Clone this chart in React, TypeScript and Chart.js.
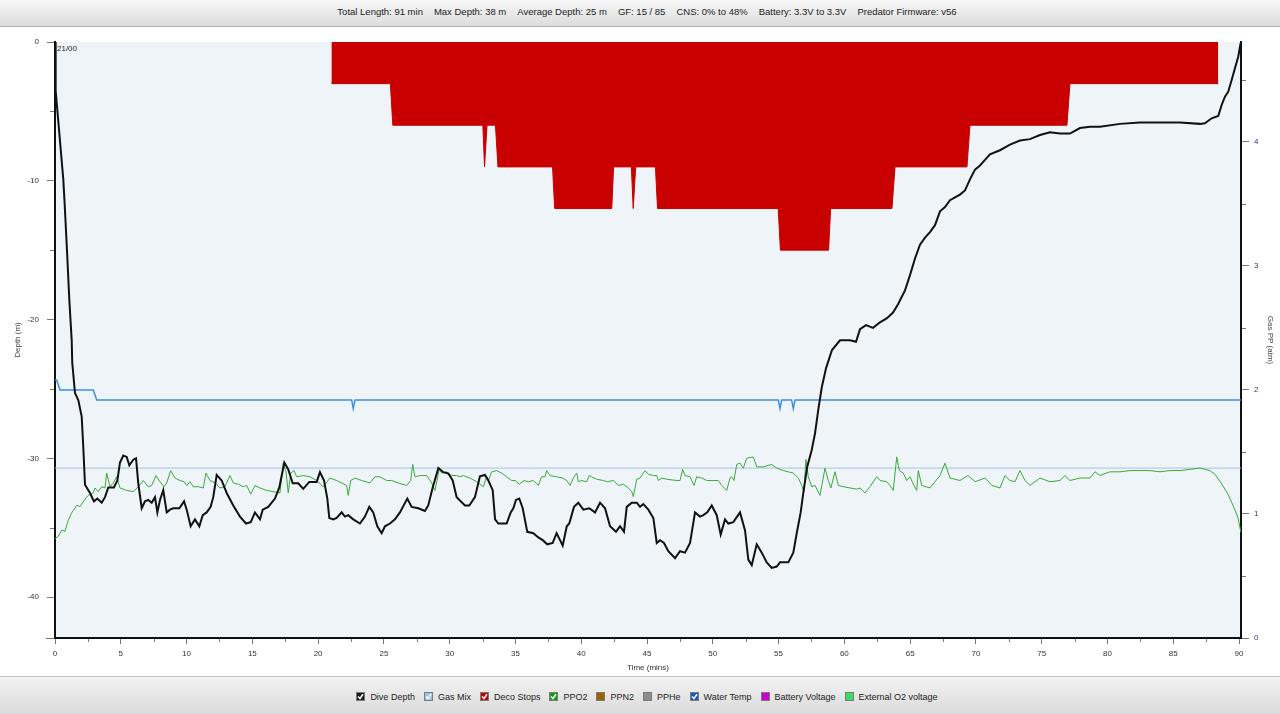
import React, { useEffect, useRef } from 'react';
import { Chart, registerables } from 'chart.js';

Chart.register(...registerables);

const FONT = '"Liberation Sans", Arial, Helvetica, sans-serif';

// Header statistics
const statLabels = ['Total Length', 'Max Depth', 'Average Depth', 'GF', 'CNS', 'Battery', 'Predator Firmware'];
const statValues = ['91 min', '38 m', '25 m', '15 / 85', '0% to 48%', '3.3V to 3.3V', 'v56'];

// Legend
const legendNames = ['Dive Depth', 'Gas Mix', 'Deco Stops', 'PPO2', 'PPN2', 'PPHe', 'Water Temp', 'Battery Voltage', 'External O2 voltage'];
const legendColors = ['#1a1a1a', '#98c4ec', '#c80000', '#139a13', '#9a6200', '#8c8c8c', '#1257c8', '#cc00cc', '#3ddc6a'];
const legendChecked = [true, true, true, true, false, false, true, false, false];

// Axes
const timeMin = 0;
const timeMax = 90.15;
const depthMin = -42.95;
const depthMax = 0;
const ppMin = 0;
const ppMax = 4.806;
const markerText = '21/00';

// Dive depth [minutes, metres]
const depthProfile: [number, number][] = [
  [0, 0], [0.05, -3.5], [0.63, -9.9], [0.72, -11.4], [0.91, -15.0], [1.09, -18.6], [1.27, -21.5], [1.31, -23.1],
  [1.52, -25.3], [1.77, -25.8], [2.03, -27.0], [2.15, -29.2], [2.28, -31.9], [2.66, -32.5], [2.96, -33.1], [3.22, -32.9],
  [3.55, -33.2], [3.80, -32.8], [4.05, -32.1], [4.31, -32.1], [4.48, -32.1], [4.74, -31.6], [4.94, -30.3], [5.19, -29.8],
  [5.45, -29.9], [5.65, -30.5], [5.95, -30.1], [6.16, -30.0], [6.33, -31.8], [6.59, -33.6], [6.84, -33.1], [7.09, -33.0],
  [7.35, -33.2], [7.60, -32.8], [7.78, -33.9], [7.98, -33.0], [8.23, -32.3], [8.49, -33.9], [8.74, -33.7], [8.99, -33.6],
  [9.45, -33.6], [9.81, -33.1], [10.01, -33.7], [10.31, -34.9], [10.64, -34.4], [10.97, -34.9], [11.23, -34.1], [11.53, -33.9],
  [11.83, -33.5], [12.03, -32.8], [12.29, -31.2], [12.67, -31.6], [13.05, -32.5], [13.55, -33.4], [14.06, -34.2], [14.52, -34.7],
  [14.88, -34.6], [15.20, -33.9], [15.58, -34.4], [15.79, -33.7], [16.21, -33.5], [16.72, -32.9], [17.05, -32.1], [17.43, -30.3],
  [17.73, -30.8], [18.07, -31.8], [18.49, -31.8], [18.87, -32.2], [19.33, -31.7], [19.89, -31.7], [20.14, -31.0], [20.45, -31.6],
  [20.70, -32.9], [20.85, -34.3], [21.15, -34.4], [21.41, -34.3], [21.79, -33.9], [22.04, -34.2], [22.29, -34.1], [22.67, -34.4],
  [23.18, -34.7], [23.56, -34.2], [23.89, -33.5], [24.19, -33.9], [24.50, -34.9], [24.83, -35.4], [25.08, -34.9], [25.46, -34.7],
  [25.84, -34.4], [26.22, -33.9], [26.78, -32.9], [27.11, -33.5], [27.62, -33.6], [28.12, -33.8], [28.37, -33.4], [28.71, -32.1],
  [29.14, -30.7], [29.52, -31.0], [29.90, -31.1], [30.23, -31.6], [30.53, -32.8], [31.16, -33.4], [31.49, -33.4], [31.92, -32.8],
  [32.30, -31.3], [32.68, -31.2], [32.94, -31.6], [33.27, -32.3], [33.45, -34.4], [33.70, -34.7], [34.13, -34.7], [34.33, -34.7],
  [34.64, -33.9], [34.84, -33.6], [35.04, -33.0], [35.29, -32.9], [35.55, -33.6], [35.90, -35.3], [36.36, -35.4], [36.74, -35.7],
  [37.07, -35.9], [37.42, -36.2], [37.83, -36.1], [38.13, -35.4], [38.39, -35.9], [38.59, -36.3], [38.90, -34.9], [39.09, -34.7],
  [39.45, -33.5], [39.78, -33.2], [40.16, -33.7], [40.61, -33.6], [41.05, -33.9], [41.43, -33.2], [41.81, -33.6], [42.19, -34.9],
  [42.64, -35.3], [42.95, -34.9], [43.25, -35.3], [43.46, -33.5], [43.84, -33.2], [44.22, -33.2], [44.47, -33.5], [44.72, -33.3],
  [45.10, -33.7], [45.48, -34.3], [45.74, -36.1], [45.99, -35.9], [46.29, -36.1], [46.62, -36.7], [47.13, -37.2], [47.51, -36.7],
  [47.89, -36.8], [48.27, -36.1], [48.65, -33.9], [49.03, -34.2], [49.28, -34.1], [49.58, -33.9], [49.92, -33.4], [50.30, -34.1],
  [50.60, -35.5], [50.93, -34.4], [51.18, -34.7], [51.56, -34.6], [52.07, -33.9], [52.45, -35.2], [52.70, -37.3], [52.96, -37.7],
  [53.34, -36.2], [53.72, -36.8], [54.10, -37.5], [54.48, -37.9], [54.86, -37.8], [55.11, -37.5], [55.49, -37.5], [55.74, -37.5],
  [56.12, -36.8], [56.38, -35.4], [56.68, -33.9], [56.88, -32.5], [57.18, -30.6], [57.52, -29.4], [57.77, -28.2], [58.02, -26.5],
  [58.28, -24.9], [58.61, -23.5], [59.06, -22.2], [59.67, -21.5], [60.43, -21.5], [60.89, -21.6], [61.19, -20.7], [61.65, -20.4],
  [62.18, -20.6], [62.71, -20.2], [63.24, -19.9], [63.70, -19.5], [64.08, -18.9], [64.61, -17.9], [64.99, -16.8], [65.37, -15.6],
  [65.75, -14.6], [66.13, -14.1], [66.51, -13.7], [66.89, -13.2], [67.27, -12.2], [67.65, -11.9], [68.03, -11.4], [68.41, -11.2],
  [68.79, -11.0], [69.17, -10.7], [69.55, -9.9], [69.93, -9.2], [70.31, -8.9], [70.69, -8.5], [71.07, -8.1], [71.83, -7.8],
  [72.59, -7.4], [73.35, -7.1], [74.11, -7.0], [74.87, -6.7], [75.63, -6.5], [76.39, -6.6], [77.15, -6.6], [77.91, -6.2],
  [78.67, -6.1], [79.43, -6.1], [80.95, -5.9], [82.47, -5.8], [83.99, -5.8], [85.51, -5.8], [87.03, -5.9], [87.41, -5.86],
  [87.92, -5.5], [88.42, -5.33], [88.68, -4.54], [88.93, -3.94], [89.18, -3.58], [89.44, -2.74], [89.69, -1.89], [89.94, -1.06],
  [90.12, -0.09],
];

// Deco stop ceiling [minutes, metres]
const decoStops: [number, number][] = [
  [21.01, -3], [25.49, -3], [25.68, -6], [32.52, -6], [32.65, -9], [32.84, -6], [33.48, -6], [33.67, -9],
  [37.82, -9], [37.98, -12], [42.32, -12], [42.46, -9], [43.81, -9], [43.95, -12], [44.14, -9], [45.64, -9],
  [45.80, -12], [54.97, -12], [55.14, -15], [58.80, -15], [58.96, -12], [63.62, -12], [63.85, -9], [69.32, -9],
  [69.55, -6], [76.92, -6], [77.15, -3], [88.42, -3],
];

// PPO2 [minutes, atm]
const ppo2: [number, number][] = [
  [0.00, 0.80], [0.25, 0.82], [0.51, 0.87], [0.76, 0.86], [1.01, 0.95], [1.27, 1.01], [1.65, 1.07], [1.90, 1.06],
  [2.28, 1.12], [2.53, 1.15], [2.91, 1.17], [3.04, 1.21], [3.29, 1.18], [3.55, 1.22], [3.80, 1.21], [3.93, 1.33],
  [4.18, 1.22], [4.43, 1.25], [4.69, 1.30], [4.94, 1.21], [5.45, 1.19], [5.95, 1.18], [6.33, 1.22], [6.71, 1.27],
  [7.09, 1.22], [7.35, 1.23], [7.68, 1.31], [7.98, 1.26], [8.29, 1.22], [8.49, 1.25], [8.79, 1.35], [9.12, 1.29],
  [9.50, 1.27], [9.81, 1.26], [10.01, 1.23], [10.26, 1.26], [10.51, 1.22], [10.89, 1.22], [11.27, 1.21], [11.48, 1.33],
  [11.78, 1.27], [12.16, 1.25], [12.54, 1.21], [12.92, 1.22], [13.30, 1.31], [13.55, 1.25], [13.93, 1.24], [14.31, 1.22],
  [14.57, 1.23], [14.88, 1.16], [15.20, 1.23], [15.58, 1.21], [16.09, 1.19], [16.59, 1.18], [17.10, 1.17], [17.35, 1.41],
  [17.56, 1.34], [17.73, 1.17], [17.92, 1.33], [18.17, 1.35], [18.37, 1.30], [18.87, 1.31], [19.38, 1.30], [19.89, 1.27],
  [20.39, 1.22], [20.90, 1.29], [21.41, 1.27], [21.79, 1.25], [22.17, 1.23], [22.29, 1.15], [22.48, 1.27], [22.80, 1.29],
  [23.31, 1.27], [23.94, 1.25], [24.32, 1.30], [24.70, 1.30], [25.21, 1.27], [25.59, 1.27], [26.09, 1.25], [26.73, 1.23],
  [27.04, 1.27], [27.19, 1.40], [27.36, 1.30], [27.74, 1.31], [28.25, 1.31], [28.63, 1.25], [28.88, 1.19], [29.21, 1.36],
  [29.39, 1.33], [29.77, 1.34], [30.15, 1.31], [30.53, 1.31], [30.78, 1.30], [31.04, 1.31], [31.54, 1.29], [32.05, 1.26],
  [32.56, 1.22], [32.81, 1.30], [32.94, 1.27], [33.19, 1.34], [33.57, 1.35], [33.95, 1.33], [34.33, 1.30], [34.71, 1.27],
  [34.97, 1.27], [35.29, 1.24], [35.65, 1.27], [35.98, 1.26], [36.36, 1.27], [36.74, 1.23], [36.99, 1.30], [37.25, 1.30],
  [37.37, 1.35], [37.63, 1.31], [38.13, 1.30], [38.59, 1.29], [38.90, 1.27], [39.15, 1.23], [39.40, 1.29], [39.66, 1.33],
  [39.78, 1.26], [40.04, 1.27], [40.41, 1.26], [40.61, 1.31], [40.79, 1.30], [41.18, 1.28], [41.68, 1.27], [41.98, 1.26],
  [42.44, 1.27], [42.82, 1.23], [43.20, 1.24], [43.58, 1.21], [43.84, 1.18], [43.96, 1.14], [44.22, 1.28], [44.47, 1.29],
  [44.85, 1.35], [45.10, 1.32], [45.48, 1.31], [45.74, 1.31], [45.86, 1.27], [46.12, 1.29], [46.50, 1.28], [47.26, 1.27],
  [47.51, 1.27], [47.71, 1.36], [47.89, 1.31], [48.27, 1.30], [48.57, 1.23], [48.78, 1.30], [49.16, 1.29], [49.54, 1.27],
  [50.04, 1.27], [50.42, 1.27], [50.68, 1.23], [51.06, 1.19], [51.31, 1.29], [51.44, 1.30], [51.61, 1.27], [51.82, 1.40],
  [52.07, 1.41], [52.32, 1.37], [52.58, 1.45], [53.08, 1.46], [53.34, 1.38], [53.84, 1.38], [54.48, 1.40], [54.86, 1.37],
  [55.36, 1.35], [55.74, 1.34], [56.12, 1.33], [56.50, 1.29], [56.76, 1.23], [56.93, 1.18], [57.08, 1.44], [57.26, 1.30],
  [57.52, 1.22], [57.77, 1.23], [58.15, 1.15], [58.53, 1.37], [58.78, 1.27], [58.98, 1.21], [59.29, 1.34], [59.54, 1.23],
  [59.92, 1.22], [60.43, 1.21], [60.94, 1.20], [61.19, 1.21], [61.57, 1.17], [61.95, 1.22], [62.46, 1.30], [62.71, 1.27],
  [63.22, 1.26], [63.47, 1.23], [63.72, 1.19], [63.98, 1.46], [64.18, 1.35], [64.48, 1.33], [64.74, 1.27], [64.99, 1.30],
  [65.24, 1.24], [65.50, 1.19], [65.62, 1.35], [65.88, 1.23], [66.51, 1.21], [67.27, 1.31], [67.65, 1.41], [68.03, 1.29],
  [68.79, 1.27], [69.40, 1.31], [69.93, 1.26], [70.69, 1.29], [71.22, 1.23], [71.83, 1.21], [72.21, 1.31], [72.59, 1.27],
  [72.97, 1.26], [73.35, 1.35], [73.73, 1.27], [74.11, 1.23], [74.87, 1.29], [75.63, 1.26], [76.39, 1.27], [76.77, 1.31],
  [77.15, 1.27], [77.91, 1.29], [78.67, 1.29], [79.05, 1.34], [79.43, 1.31], [80.19, 1.34], [80.95, 1.34], [81.71, 1.35],
  [82.47, 1.35], [83.23, 1.35], [83.99, 1.34], [84.75, 1.35], [85.51, 1.35], [86.27, 1.36], [87.03, 1.37], [87.79, 1.35],
  [88.17, 1.32], [88.70, 1.24], [89.16, 1.16], [89.54, 1.07], [89.92, 0.97], [90.15, 0.85],
];

// Water temperature trace, plotted on the gas PP scale [minutes, scaled value]
const waterTemp: [number, number][] = [
  [0, 2.08], [0.13, 2.08], [0.38, 2.0], [2.91, 2.0], [3.17, 1.92], [22.55, 1.92], [22.67, 1.85], [22.8, 1.92],
  [54.98, 1.92], [55.11, 1.85], [55.24, 1.92], [55.99, 1.92], [56.12, 1.85], [56.25, 1.92], [90.15, 1.92],
];

// Gas mix reference line [minutes, atm]
const gasMix: [number, number][] = [[0, 1.37], [90.15, 1.37]];

const toXY = (arr: [number, number][]) => arr.map(([x, y]) => ({ x, y }));

const plotBg = {
  id: 'plotBg',
  beforeDraw(chart: any) {
    const { ctx, chartArea: a } = chart;
    ctx.save();
    ctx.fillStyle = '#eff4f9';
    ctx.fillRect(a.left, a.top, a.right - a.left, a.bottom - a.top);
    ctx.restore();
  },
};

const extras = {
  id: 'extras',
  afterDraw(chart: any) {
    const { ctx, chartArea: a, scales } = chart;
    ctx.save();
    ctx.strokeStyle = '#777';
    ctx.lineWidth = 1;
    ctx.beginPath();
    for (let v = 2.5; v < timeMax; v += 5) {
      const px = Math.round(scales.x.getPixelForValue(v)) + 0.5;
      ctx.moveTo(px, a.bottom + 1);
      ctx.lineTo(px, a.bottom + 4);
    }
    for (let v = -5; v > depthMin; v -= 10) {
      const py = Math.round(scales.y.getPixelForValue(v)) + 0.5;
      ctx.moveTo(a.left - 5, py);
      ctx.lineTo(a.left - 1, py);
    }
    const pyMin = Math.round(scales.y.getPixelForValue(depthMin)) + 0.5;
    ctx.moveTo(a.left - 9, pyMin);
    ctx.lineTo(a.left - 1, pyMin);
    for (let v = 0.5; v < ppMax; v += 1) {
      const py = Math.round(scales.y1.getPixelForValue(v)) + 0.5;
      ctx.moveTo(a.right + 1, py);
      ctx.lineTo(a.right + 5, py);
    }
    ctx.stroke();
    ctx.fillStyle = '#222';
    ctx.font = `8px ${FONT}`;
    ctx.textBaseline = 'top';
    ctx.textAlign = 'left';
    ctx.fillText(markerText, a.left + 2, a.top + 3);
    ctx.restore();
  },
};

function DiveChart() {
  const ref = useRef<HTMLCanvasElement | null>(null);
  useEffect(() => {
    if (!ref.current) return;
    const tickFont = { family: FONT, size: 8 };
    const titleFont = { family: FONT, size: 8 };
    const chart = new Chart(ref.current, {
      type: 'line',
      data: {
        datasets: [
          { label: 'Dive Depth', data: toXY(depthProfile), yAxisID: 'y', borderColor: '#111', borderWidth: 2, pointRadius: 0, tension: 0, fill: false },
          { label: 'PPO2', data: toXY(ppo2), yAxisID: 'y1', borderColor: '#3aaa3a', borderWidth: 1, pointRadius: 0, tension: 0, fill: false },
          { label: 'Water Temp', data: toXY(waterTemp), yAxisID: 'y1', borderColor: '#3d8fe0', borderWidth: 1.5, pointRadius: 0, tension: 0, fill: false },
          { label: 'Gas Mix', data: toXY(gasMix), yAxisID: 'y1', borderColor: '#a6c4e0', borderWidth: 1, pointRadius: 0, tension: 0, fill: false },
          { label: 'Deco Stops', data: toXY(decoStops), yAxisID: 'y', borderColor: '#c80000', backgroundColor: '#c80000', borderWidth: 1, pointRadius: 0, tension: 0, fill: 'origin' },
        ],
      },
      options: {
        animation: false,
        responsive: false,
        devicePixelRatio: 1,
        layout: { padding: { top: 42, bottom: 37, left: 0, right: 0 } },
        plugins: { legend: { display: false }, tooltip: { enabled: false }, title: { display: false } },
        scales: {
          x: {
            type: 'linear', position: 'bottom', min: timeMin, max: timeMax,
            ticks: { stepSize: 5, includeBounds: false, font: tickFont, color: '#333', padding: 5, maxRotation: 0, autoSkip: false },
            grid: { drawOnChartArea: false, drawTicks: true, tickLength: 6, color: '#777', tickColor: '#777' },
            border: { display: true, color: '#111', width: 2 },
            title: { display: true, text: 'Time (mins)', font: titleFont, color: '#333', padding: { top: 0, bottom: 4 } },
            afterFit: (s: any) => { s.height = 39; },
          },
          y: {
            type: 'linear', position: 'left', min: depthMin, max: depthMax,
            ticks: { stepSize: 10, includeBounds: false, font: tickFont, color: '#333', padding: 8 },
            grid: { drawOnChartArea: false, drawTicks: true, tickLength: 8, color: '#777', tickColor: '#777' },
            border: { display: true, color: '#111', width: 2 },
            title: { display: true, text: 'Depth (m)', font: titleFont, color: '#444', padding: { top: 12.5, bottom: 0 } },
            afterFit: (s: any) => { s.width = 55; },
          },
          y1: {
            type: 'linear', position: 'right', min: ppMin, max: ppMax,
            ticks: { stepSize: 1, includeBounds: false, font: tickFont, color: '#2c3e66', padding: 5 },
            grid: { drawOnChartArea: false, drawTicks: true, tickLength: 8, color: '#777', tickColor: '#777' },
            border: { display: true, color: '#111', width: 2 },
            title: { display: true, text: 'Gas PP (atm)', font: titleFont, color: '#444', padding: { top: 4.5, bottom: 0 } },
            afterFit: (s: any) => { s.width = 39; },
          },
        },
      },
      plugins: [plotBg, extras],
    } as any);
    return () => chart.destroy();
  }, []);
  return <canvas ref={ref} width={1280} height={714} style={{ position: 'absolute', left: 0, top: 0, width: 1280, height: 714 }} />;
}

function CheckBox({ color, checked }: { color: string; checked: boolean }) {
  return (
    <span style={{ position: 'relative', display: 'inline-block', width: 9, height: 9, boxSizing: 'border-box', border: '1px solid #7a7a7a', background: color, marginRight: 5 }}>
      {checked && (
        <svg width="7" height="7" style={{ position: 'absolute', left: 0, top: 0 }}>
          <polyline points="1,3.5 3,5.5 6,1.2" fill="none" stroke="#fff" strokeWidth="1.5" />
        </svg>
      )}
    </span>
  );
}

export default function App() {
  return (
    <div style={{ position: 'fixed', left: 0, top: 0, width: 1280, height: 714, background: '#fff', overflow: 'hidden', fontFamily: FONT }}>
      <DiveChart />
      <div style={{ position: 'absolute', left: 0, top: 0, width: 1280, height: 27, boxSizing: 'border-box', borderBottom: '1px solid #b4b4b4', background: 'linear-gradient(#f7f7f7, #dcdcdc)', display: 'flex', justifyContent: 'center', alignItems: 'flex-start', paddingLeft: 14, fontSize: 9.5, lineHeight: '23px', color: '#222', zIndex: 1 }}>
        {statLabels.map((l, i) => (
          <span key={l} style={{ margin: '0 5.5px', whiteSpace: 'nowrap' }}>{`${l}: ${statValues[i]}`}</span>
        ))}
      </div>
      <div style={{ position: 'absolute', left: 0, top: 676, width: 1280, height: 38, boxSizing: 'border-box', borderTop: '1px solid #c2c2c2', background: 'linear-gradient(#f3f3f3, #dadada)', display: 'flex', justifyContent: 'center', alignItems: 'center', paddingLeft: 14, paddingTop: 2, fontSize: 9, color: '#222', zIndex: 1 }}>
        {legendNames.map((n, i) => (
          <span key={n} style={{ display: 'inline-flex', alignItems: 'center', marginRight: i === legendNames.length - 1 ? 0 : 9, whiteSpace: 'nowrap' }}>
            <CheckBox color={legendColors[i]} checked={legendChecked[i]} />
            <span>{n}</span>
          </span>
        ))}
      </div>
    </div>
  );
}
